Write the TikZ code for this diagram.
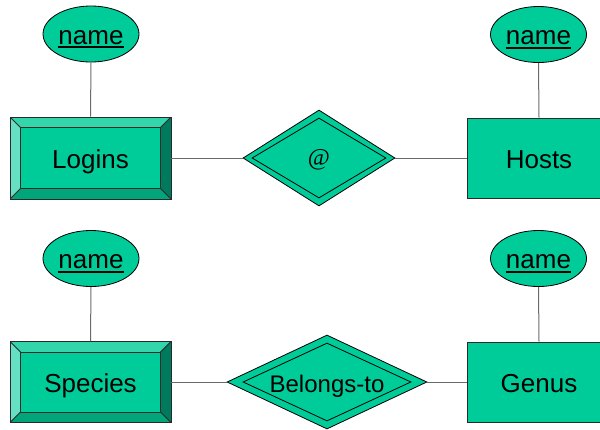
\documentclass[tikz,border=0pt]{standalone}
\usepackage{fontspec}
\setmainfont{Liberation Sans}
\newfontfamily\seriffont{Liberation Serif}
\usetikzlibrary{shapes.geometric}
\definecolor{erfill}{HTML}{00CC99}
\definecolor{bevelL}{HTML}{66E0C2}
\definecolor{bevelT}{HTML}{33D6AA}
\definecolor{bevelR}{HTML}{007A5C}
\definecolor{bevelB}{HTML}{00A67A}
\definecolor{edgeC}{HTML}{2A2A2A}
\definecolor{connC}{HTML}{6A6A6A}
\newcommand\myul[1]{\setbox0\hbox{#1}\rlap{\rule[-4pt]{\wd0}{1.7pt}}\box0}
\tikzset{
  bigfont/.style={font=\fontsize{26}{30}\selectfont, text height=23pt, text depth=3pt},
  attr/.style={ellipse, draw=black, line width=0.8pt, fill=erfill, inner sep=0pt,
    minimum width=96pt, minimum height=56pt, bigfont},
  entitybox/.style={rectangle, draw=edgeC, line width=0.9pt, fill=erfill, inner sep=0pt,
    minimum width=144pt, minimum height=80pt, bigfont},
  weakbox/.style={rectangle, draw=edgeC, line width=0.9pt, fill=erfill, inner sep=0pt,
    minimum width=161pt, minimum height=82pt, bigfont,
    path picture={
      \fill[bevelL] (path picture bounding box.south west) -- (path picture bounding box.north west)
        -- ([shift={(10.5pt,-10.5pt)}]path picture bounding box.north west)
        -- ([shift={(10.5pt,10.5pt)}]path picture bounding box.south west) -- cycle;
      \fill[bevelT] (path picture bounding box.north west) -- (path picture bounding box.north east)
        -- ([shift={(-10.5pt,-10.5pt)}]path picture bounding box.north east)
        -- ([shift={(10.5pt,-10.5pt)}]path picture bounding box.north west) -- cycle;
      \fill[bevelR] (path picture bounding box.north east) -- (path picture bounding box.south east)
        -- ([shift={(-10.5pt,10.5pt)}]path picture bounding box.south east)
        -- ([shift={(-10.5pt,-10.5pt)}]path picture bounding box.north east) -- cycle;
      \fill[bevelB] (path picture bounding box.south west) -- (path picture bounding box.south east)
        -- ([shift={(-10.5pt,10.5pt)}]path picture bounding box.south east)
        -- ([shift={(10.5pt,10.5pt)}]path picture bounding box.south west) -- cycle;
      \draw[edgeC, line width=0.8pt]
        ([shift={(10.5pt,-10.5pt)}]path picture bounding box.north west) rectangle
        ([shift={(-10.5pt,10.5pt)}]path picture bounding box.south east);
      \draw[edgeC, line width=0.8pt]
        (path picture bounding box.north west) -- ([shift={(10.5pt,-10.5pt)}]path picture bounding box.north west)
        (path picture bounding box.north east) -- ([shift={(-10.5pt,-10.5pt)}]path picture bounding box.north east)
        (path picture bounding box.south west) -- ([shift={(10.5pt,10.5pt)}]path picture bounding box.south west)
        (path picture bounding box.south east) -- ([shift={(-10.5pt,10.5pt)}]path picture bounding box.south east);
    }},
  reldiamond/.style args={#1/#2}{diamond, draw=black, line width=0.8pt, fill=erfill,
    inner sep=0pt, shape aspect=2,
    path picture={
      \draw[black, line width=0.8pt]
        ([xshift=#1]path picture bounding box.west) -- ([yshift=-#2]path picture bounding box.north)
        -- ([xshift=-#1]path picture bounding box.east) -- ([yshift=#2]path picture bounding box.south) -- cycle;
    }},
  conn/.style={draw=connC, line width=1pt},
}
\begin{document}
\begin{tikzpicture}[x=1pt,y=-1pt]
\useasboundingbox (0,0) rectangle (600,429);
\clip (0,0) rectangle (600,429);
% top row
\node[attr] (nameA) at (91,34) {\myul{name}};
\node[attr] (nameB) at (538.5,34.5) {\myul{name}};
\node[weakbox] (logins) at (90.5,158) {Logins};
\node[entitybox] (hosts) at (539,158) {Hosts};
\node[reldiamond={9pt/8pt}, minimum width=152pt, minimum height=96pt,
      font=\seriffont\fontsize{24}{28}\selectfont, text height=18pt, text depth=4pt] (at) at (319,158) {@};
% bottom row
\node[attr] (nameC) at (91,258.5) {\myul{name}};
\node[attr] (nameD) at (538.5,258.5) {\myul{name}};
\node[weakbox, minimum height=81pt] (species) at (90.5,382) {Species};
\node[entitybox] (genus) at (539,382) {Genus};
\node[reldiamond={16pt/8pt}, minimum width=200pt, minimum height=94pt,
      font=\fontsize{24}{28}\selectfont, text height=22pt, text depth=2pt] (belongs) at (327,382) {Belongs-to};
% connectors
\draw[conn] (nameA.south) -- (logins.north);
\draw[conn] (nameB.south) -- (hosts.north);
\draw[conn] (nameC.south) -- (species.north);
\draw[conn] (nameD.south) -- (genus.north);
\draw[conn] (logins.east) -- (at.west);
\draw[conn] (at.east) -- (hosts.west);
\draw[conn] (species.east) -- (belongs.west);
\draw[conn] (belongs.east) -- (genus.west);
\end{tikzpicture}
\end{document}
